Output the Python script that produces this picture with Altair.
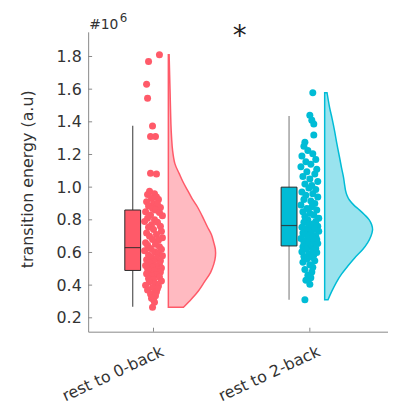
import altair as alt
import pandas as pd

categories = ["rest to 0-back", "rest to 2-back"]
positions = [1, 2]
point_colors = ["#FF5A69", "#00BCD6"]
violin_fills = ["#FFBAC1", "#99E3EE"]
whisker_colors = ["#555555", "#8a8a8a"]

g1_values = [1.81, 1.77, 1.63, 1.545, 1.375, 1.31, 1.31, 1.085, 1.08,
             0.975, 0.96, 0.955, 0.94, 0.93, 0.925, 0.91, 0.90, 0.895, 0.885, 0.875, 0.87, 0.86,
             0.85, 0.845, 0.83, 0.825, 0.81, 0.80, 0.79, 0.785, 0.77, 0.76, 0.755, 0.74, 0.73, 0.72,
             0.71, 0.70, 0.69, 0.68, 0.675, 0.66, 0.65, 0.645, 0.635,
             0.625, 0.62, 0.61, 0.605, 0.595, 0.585, 0.58, 0.57, 0.565, 0.555, 0.55, 0.545, 0.535,
             0.53, 0.52, 0.515, 0.51, 0.505, 0.50, 0.495, 0.49, 0.485,
             0.48, 0.47, 0.465, 0.455, 0.45, 0.44, 0.435, 0.425, 0.42, 0.41, 0.40, 0.395, 0.385,
             0.38, 0.37, 0.36, 0.35, 0.345, 0.335, 0.32, 0.31, 0.295, 0.265]
g1_jitter = [6, -5, -7, -6, -1, -3, 2, -3, 3,
             -4, 1, -6, 3, -2, 5, -7, 0, 4, -5, 7, -1, 2,
             -8, 6, -3, 9, -6, 1, -9, 4, -2, 7, -5, 0, 8, -7, 3, -4, 9, -1, 5, -8, 2, -6, 6,
             -3, 8, -9, 1, 5, -5, 9, -2, 3, -7, 7, 0, -4, 6, -8, 2, -1, 8, -6, 4, -3, 1,
             7, -7, 3, -2, 6, -5, 0, 8, -4, 2, -8, 5, -1, 4, -6, 3, 1, -3, 2, -2, 0, 1, -1]

g2_values = [1.578, 1.44, 1.41, 1.386, 1.319, 1.275, 1.25, 1.225, 1.205, 1.19, 1.17, 1.155,
             1.14, 1.125, 1.11, 1.095, 1.08, 1.065, 1.05, 1.035, 1.02, 1.01,
             0.995, 0.985, 0.97, 0.96, 0.95, 0.94, 0.925, 0.915, 0.90, 0.89, 0.88, 0.87, 0.86,
             0.85, 0.84, 0.83, 0.82, 0.81, 0.80, 0.79, 0.785, 0.775, 0.77,
             0.76, 0.755, 0.75, 0.745, 0.74, 0.735, 0.73, 0.72, 0.715, 0.71, 0.70, 0.695, 0.69,
             0.685, 0.68, 0.675, 0.67, 0.665, 0.66, 0.655, 0.65, 0.645,
             0.635, 0.63, 0.625, 0.62, 0.61, 0.605, 0.60, 0.59, 0.585, 0.575, 0.57, 0.56, 0.55,
             0.54, 0.525, 0.51, 0.495, 0.48, 0.46, 0.445, 0.43, 0.405, 0.311]
g2_jitter = [3, 0, 2, 4, 4, -5, -6, -2, 3, -8, 6, -4, 1, -9, 7, -3, 5, -7, 0, 8, -5, 2,
             -1, 6, -8, 3, -4, 8, -6, 1, 5, -9, 2, -3, 7, -7, 0, 4, -5, 9, -2, 6, -6, 3, -1,
             8, -8, 2, -4, 5, -2, 9, -7, 1, -5, 6, -1, 3, -9, 7, -3, 0, 4, -6, 8, -2, 5,
             -7, 1, 6, -4, 3, -8, 7, -1, 4, -6, 2, -3, 5, -7, 0, 3, -5, 2, -2, 1, -4, 0, -5]

box_q1 = [0.49, 0.64]
box_median = [0.63, 0.765]
box_q3 = [0.86, 1.0]
whisker_low = [0.267, 0.31]
whisker_high = [1.376, 1.436]

v1_y = [0.265, 0.30, 0.356, 0.42, 0.477, 0.53, 0.578, 0.62, 0.659, 0.71, 0.759, 0.82, 0.88,
        0.93, 0.982, 1.03, 1.083, 1.144, 1.224, 1.30, 1.386, 1.50, 1.60, 1.689, 1.76, 1.81]
v1_w = [15.3, 21, 29.3, 36.5, 42.6, 46, 47.6, 47.5, 46, 43.5, 39.3, 34.5, 29.3,
        24, 19.3, 15, 11, 6.6, 4.3, 3.3, 2.6, 2.1, 1.7, 1.3, 1.0, 0.8]
v2_y = [0.311, 0.36, 0.416, 0.467, 0.517, 0.568, 0.618, 0.66, 0.699, 0.739, 0.77, 0.80, 0.83,
        0.861, 0.89, 0.921, 0.95, 0.982, 1.02, 1.062, 1.12, 1.183, 1.26, 1.345, 1.42, 1.487, 1.578]
v2_w = [3.4, 7, 11.7, 17, 23.4, 30.5, 38.4, 43.5, 46.7, 48.4, 47.5, 45, 40.5,
        35, 29.5, 25, 22.5, 21, 20, 19, 17, 15, 12.5, 10, 7.5, 5, 2.4]

y_ticks = [0.2, 0.4, 0.6, 0.8, 1.0, 1.2, 1.4, 1.6, 1.8]
y_title = "transition energy (a.u)"
significance = "*"
exponent_base = "#10"
exponent_power = "6"

# ---- geometry ----
W, H = 303, 303
X_DOMAIN = [0.582, 2.5]
Y_DOMAIN = [0.115, 1.951]
PX = W / (X_DOMAIN[1] - X_DOMAIN[0])
FONT = "DejaVu Sans"
TEXT_COLOR = "#333333"
AXIS_COLOR = "#888888"

xscale = alt.Scale(domain=X_DOMAIN, nice=False, zero=False)
yscale = alt.Scale(domain=Y_DOMAIN, nice=False, zero=False)
xaxis = alt.Axis(labels=False, ticks=False, grid=False, domainColor=AXIS_COLOR, title=None)
yaxis = alt.Axis(values=y_ticks, format=".1f", ticks=False, grid=False, labelPadding=7,
                 labelFontSize=16, labelFont=FONT, labelColor=TEXT_COLOR,
                 domainColor=AXIS_COLOR, title=None)


def X(f):
    return alt.X(f, type="quantitative", scale=xscale, axis=xaxis, title=None, stack=None)


def Y(f):
    return alt.Y(f, type="quantitative", scale=yscale, axis=yaxis, title=None, stack=None)


pcol = dict(zip(categories, point_colors))
vcol = dict(zip(categories, violin_fills))
wcol = dict(zip(categories, whisker_colors))

pts = pd.DataFrame({
    "group": [categories[0]] * len(g1_values) + [categories[1]] * len(g2_values),
    "val": g1_values + g2_values,
    "px": [positions[0] + j / PX for j in g1_jitter] + [positions[1] + j / PX for j in g2_jitter],
})
pts["pc"] = pts["group"].map(pcol)

box = pd.DataFrame({
    "group": categories,
    "bx0": [p - 29 / PX for p in positions],
    "bx1": [p - 13 / PX for p in positions],
    "wx": [p - 21 / PX for p in positions],
    "q1": box_q1, "q3": box_q3, "med": box_median,
    "wlo": whisker_low, "whi": whisker_high,
})
box["pc"] = box["group"].map(pcol)
box["wc"] = box["group"].map(wcol)

vio = pd.DataFrame({
    "group": [categories[0]] * len(v1_y) + [categories[1]] * len(v2_y),
    "vy": v1_y + v2_y,
    "x0": [positions[0] + 15 / PX] * len(v1_y) + [positions[1] + 15 / PX] * len(v2_y),
    "x1": [positions[0] + (15 + w) / PX for w in v1_w] + [positions[1] + (15 + w) / PX for w in v2_w],
})

labels = pd.DataFrame({"cat": categories, "lx": [p + 6 / PX for p in positions], "pos": positions})
ticks_df = pd.DataFrame({"v": y_ticks})

whiskers = alt.Chart(box).mark_rule(strokeWidth=1.2).encode(
    x=X("wx"), y=Y("wlo"), y2="whi",
    color=alt.Color("wc:N", scale=None))

boxes = alt.Chart(box).mark_rect(stroke="#2a2a2a", strokeWidth=1).encode(
    x=X("bx0"), x2="bx1", y=Y("q1"), y2="q3",
    fill=alt.Fill("pc:N", scale=None))

medians = alt.Chart(box).mark_rule(color="#2a2a2a", strokeWidth=1.2, strokeOpacity=0.8).encode(
    x=X("bx0"), x2="bx1", y=Y("med"))

points = alt.Chart(pts).mark_circle(size=50, opacity=1).encode(
    x=X("px"), y=Y("val"),
    color=alt.Color("pc:N", scale=None))

violin_layers = []
for g in categories:
    d = vio[vio["group"] == g]
    violin_layers.append(
        alt.Chart(d).mark_area(orient="horizontal", interpolate="cardinal",
                               strokeWidth=1.5, opacity=1,
                               fill=vcol[g], stroke=pcol[g]).encode(
            y=Y("vy"), x=X("x0"), x2="x1"))

ytick_marks = alt.Chart(ticks_df).mark_rule(color=AXIS_COLOR).encode(
    y=Y("v"), x=alt.value(0), x2=alt.value(4))

xtick_marks = alt.Chart(labels).mark_rule(color=AXIS_COLOR).encode(
    x=X("pos"), y=alt.value(H), y2=alt.value(H - 4))

xlabels = alt.Chart(labels).mark_text(angle=335, align="right", baseline="top",
                                      fontSize=16, font=FONT, color=TEXT_COLOR).encode(
    x=X("lx"), y=alt.value(H + 12), text="cat:N")

ytitle = alt.Chart(pd.DataFrame({"t": [y_title]})).mark_text(
    angle=270, align="center", baseline="middle", fontSize=16, font=FONT, color=TEXT_COLOR).encode(
    x=alt.value(-61), y=alt.value(149), text="t:N")

star = alt.Chart(pd.DataFrame({"t": [significance]})).mark_text(
    align="center", baseline="alphabetic", fontSize=28, font=FONT, color="#222222").encode(
    x=alt.value(153), y=alt.value(13), text="t:N")

exp_base = alt.Chart(pd.DataFrame({"t": [exponent_base]})).mark_text(
    align="left", baseline="alphabetic", fontSize=14, font=FONT, color=TEXT_COLOR).encode(
    x=alt.value(1), y=alt.value(-3), text="t:N")

exp_pow = alt.Chart(pd.DataFrame({"t": [exponent_power]})).mark_text(
    align="left", baseline="alphabetic", fontSize=12, font=FONT, color=TEXT_COLOR).encode(
    x=alt.value(32), y=alt.value(-10), text="t:N")

chart = alt.layer(
    whiskers, boxes, medians, points, *violin_layers, ytick_marks, xtick_marks,
    xlabels, ytitle, star, exp_base, exp_pow
).properties(
    width=W, height=H,
    autosize=alt.AutoSizeParams(type="none"),
    padding={"left": 81, "top": 22, "right": 0, "bottom": 72},
    background="white",
).configure_view(stroke=None)

chart.save("out.html", embed_options={"renderer": "svg", "actions": False})
